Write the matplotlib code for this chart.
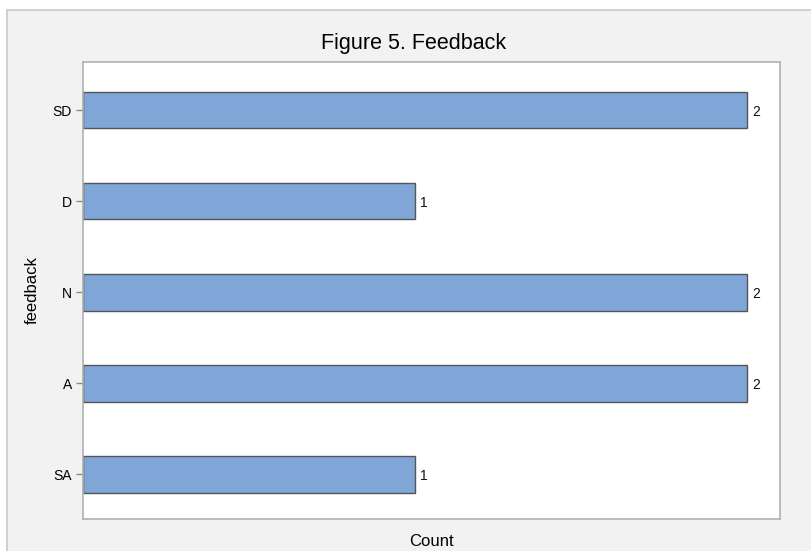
import matplotlib
matplotlib.use("Agg")
import matplotlib.pyplot as plt
from matplotlib.patches import Rectangle

categories = ["SD", "D", "N", "A", "SA"]
counts = [2, 1, 2, 2, 1]

plt.rcParams['font.family'] = ['Liberation Sans', 'DejaVu Sans']

fig = plt.figure(figsize=(8.12, 5.51), dpi=100, facecolor="white")
bg = Rectangle((7/812, -0.05), 1.1, 1.05 - 10/551, transform=fig.transFigure,
               facecolor="#f2f2f2", edgecolor="#c8c8c8", linewidth=1.2, zorder=-10)
fig.patches.append(bg)

ax = fig.add_axes([83/812, 1 - 519/551, (780-83)/812, (519-62)/551])
ax.set_facecolor("white")
ypos = list(range(len(categories)))[::-1]
ax.barh(ypos, counts, height=0.4, color="#7fa6d6", edgecolor="#555555", linewidth=1)
for y, c in zip(ypos, counts):
    ax.text(c + 0.015, y - 0.02, str(c), va="center", ha="left", fontsize=10, color="#111111")

ax.set_xlim(0, 2.1)
ax.set_ylim(-0.49, 4.53)
ax.set_yticks(ypos)
ax.set_yticklabels(categories, fontsize=10)
ax.set_xticks([])
ax.tick_params(axis="y", length=5, color="#888888", width=1, pad=3)
for s in ax.spines.values():
    s.set_color("#b0b0b0")
    s.set_linewidth(1.2)
ax.set_xlabel("Count", fontsize=12, labelpad=11)
ax.set_ylabel("feedback", fontsize=12, labelpad=9)
fig.text(414/812, 1 - 44/551, "Figure 5. Feedback", ha="center", va="center", fontsize=15.5)

fig.savefig("out.png", dpi=100, facecolor=fig.get_facecolor())
